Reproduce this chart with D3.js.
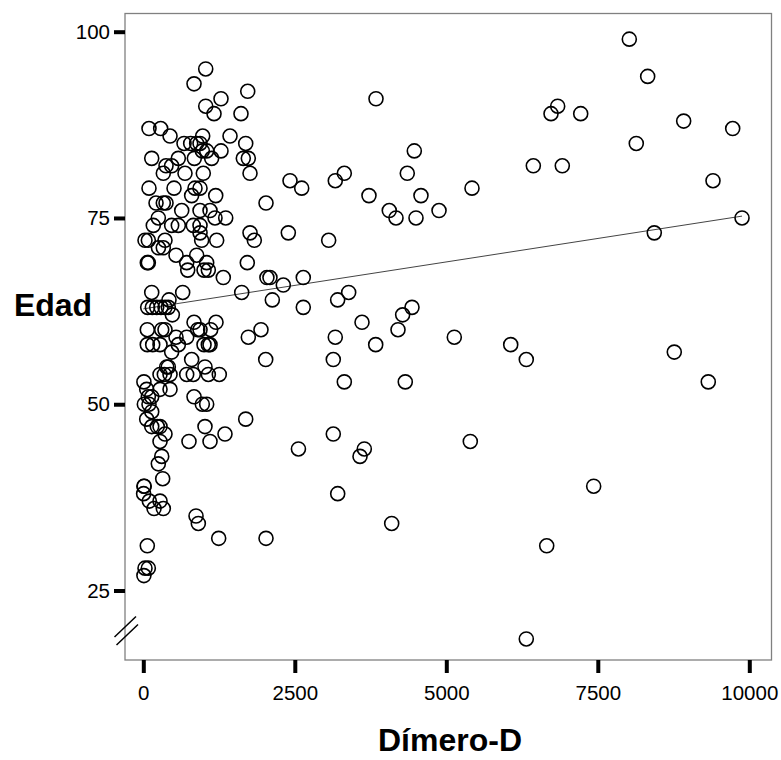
<!DOCTYPE html>
<html>
<head>
<meta charset="utf-8">
<script src="https://cdn.jsdelivr.net/npm/d3@7"></script>
<style>
body { margin: 0; background: #fff; }
text { font-family: Arial, "Liberation Sans", sans-serif; }
</style>
</head>
<body>
<script>
var width = 781;
var height = 760;

// values
var dimero = [8020, 8323, 3840, 6838, 6728, 7218, 8917, 9726, 4472, 8135, 3317, 3168, 4356, 6436, 6914, 9401,
  2614, 3724, 4582, 5424, 4059, 4170, 4500, 4880, 9880, 8432, 3059, 2640, 3389, 3207, 2640, 4434, 4280, 3609,
  4203, 3168, 5132, 3835, 6063, 6320, 3135, 8762, 3317, 4323, 9323, 2560, 3135, 3647, 3576, 5396, 7432, 3208,
  4099, 6657, 6320,
  1030, 837, 1723, 1282, 1030, 1167, 1612, 94, 287, 441, 980, 1431, 672, 782, 881, 936, 974, 1046, 1282, 1690,
  139, 578, 842, 1128, 1650, 1733, 468, 375, 330, 688, 990, 1761, 2421, 94, 507, 853, 936, 798, 1195, 2025,
  210, 330, 375, 634, 936, 1101, 1183, 1360, 248, 165, 468, 578, 825, 936, 2393, 1761, 1832, 28, 83, 358,
  936, 963, 1211,
  250, 330, 83, 66, 540, 881, 716, 733, 1046, 1073, 1002, 1716, 1320, 2040, 2090, 2310, 1624, 139, 650, 2129,
  72, 149, 221, 292, 358, 413, 424, 479, 66, 304, 358, 837, 1200, 898, 936, 1112, 540, 716, 1733, 1942,
  66, 155, 276, 1002, 1073, 1101, 578, 468, 2020, 798, 386, 413, 347, 441, 716, 825, 1018, 1073, 1254, 276,
  10, 56, 83, 139, 17, 94, 276, 441, 837, 974, 1046, 56, 139, 139, 231, 276, 1690, 1018, 358, 276, 754, 1101,
  1348, 304, 248, 320, 10, 15, 5, 99, 177, 276, 330, 870, 908, 1244, 2025, 66, 28, 83, 10];

var edad = [99, 94, 91, 90, 89, 89, 88, 87, 84, 85, 81, 80, 81, 82, 82, 80,
  79, 78, 78, 79, 76, 75, 75, 76, 75, 73, 72, 67, 65, 64, 63, 63, 62, 61,
  60, 59, 59, 58, 58, 56, 56, 57, 53, 53, 53, 44, 46, 44, 43, 45, 39, 38,
  34, 31, 18.5,
  95, 93, 92, 91, 90, 89, 89, 87, 87, 86, 86, 86, 85, 85, 85, 85, 84, 84, 84, 85,
  83, 83, 83, 83, 83, 83, 82, 82, 81, 81, 81, 81, 80, 79, 79, 79, 79, 78, 78, 77,
  77, 77, 77, 76, 76, 76, 75, 75, 75, 74, 74, 74, 74, 74, 73, 73, 72, 72, 72, 72,
  73, 72, 72,
  71, 71, 69, 69, 70, 70, 69, 68, 69, 68, 68, 69, 67, 67, 67, 66, 65, 65, 65, 64,
  63, 63, 63, 63, 63, 63, 64, 62, 60, 60, 60, 61, 61, 60, 60, 60, 59, 59, 59, 60,
  58, 58, 58, 58, 58, 58, 58, 57, 56, 56, 55, 55, 54, 54, 54, 54, 55, 54, 54, 54,
  53, 52, 51, 51, 50, 50, 52, 52, 51, 50, 50, 48, 49, 47, 47, 47, 48, 47, 46, 45, 45, 45,
  46, 43, 42, 40, 39, 39, 38, 37, 36, 37, 36, 35, 34, 32, 32, 31, 28, 28, 27];

var xTicks = [0, 2500, 5000, 7500, 10000];
var yTicks = [25, 50, 75, 100];
var fitIntercept = 62.8;
var fitSlope = 0.00126;
var fitRange = [0, 9880];

var frameLeft = 125, frameRight = 771.5, frameTop = 13.5, frameBottom = 660;

var x = d3.scaleLinear()
.domain([0, 10000])
.range([143.3, 749.3]);

var y = d3.scaleLinear()
.domain([25, 100])
.range([590.5, 31.7]);

var svg = d3.select("body").append("svg")
.attr("width", width)
.attr("height", height);

svg.append("rect")
.attr("x", frameLeft)
.attr("y", frameTop)
.attr("width", frameRight - frameLeft)
.attr("height", frameBottom - frameTop)
.attr("fill", "none")
.attr("stroke", "#808080")
.attr("stroke-width", 1.3);

var yAxis = svg.append("g")
.attr("transform", "translate(" + frameLeft + ",0)")
.call(d3.axisLeft(y).tickValues(yTicks).tickFormat(d3.format("d")).tickSize(11).tickPadding(4).tickSizeOuter(0));

var xAxis = svg.append("g")
.attr("transform", "translate(0," + frameBottom + ")")
.call(d3.axisBottom(x).tickValues(xTicks).tickFormat(d3.format("d")).tickSize(13).tickPadding(12).tickSizeOuter(0));

[xAxis, yAxis].forEach(function(g) {
  g.select(".domain").remove();
  g.selectAll(".tick line").attr("stroke", "#000").attr("stroke-width", 4);
  g.selectAll(".tick text")
  .attr("fill", "#000")
  .style("font-size", "20.5px")
  .style("font-family", "Arial, 'Liberation Sans', sans-serif");
});

// axis break mark
var brk = svg.append("g");
brk.append("line").attr("x1", 114.5).attr("y1", 637).attr("x2", 136).attr("y2", 616.5);
brk.append("line").attr("x1", 116.5).attr("y1", 645).attr("x2", 138).attr("y2", 624.5);
brk.selectAll("line").attr("stroke", "#000").attr("stroke-width", 1.5);

// fit line
svg.append("line")
.attr("x1", x(fitRange[0]))
.attr("y1", y(fitIntercept + fitSlope * fitRange[0]))
.attr("x2", x(fitRange[1]))
.attr("y2", y(fitIntercept + fitSlope * fitRange[1]))
.attr("stroke", "#444")
.attr("stroke-width", 1);

svg.append("g")
.selectAll("circle")
.data(dimero)
.enter().append("circle")
.attr("cx", function(d) { return x(d) })
.attr("cy", function(d, i) { return y(edad[i]) })
.attr("r", 7)
.attr("fill", "none")
.attr("stroke", "#000")
.attr("stroke-width", 1.6);

svg.append("text")
.attr("x", 53)
.attr("y", 316)
.attr("text-anchor", "middle")
.style("font-size", "32px")
.style("font-weight", "bold")
.text("Edad");

svg.append("text")
.attr("x", 450)
.attr("y", 751)
.attr("text-anchor", "middle")
.style("font-size", "32px")
.style("font-weight", "bold")
.text("Dímero-D");
</script>
</body>
</html>
